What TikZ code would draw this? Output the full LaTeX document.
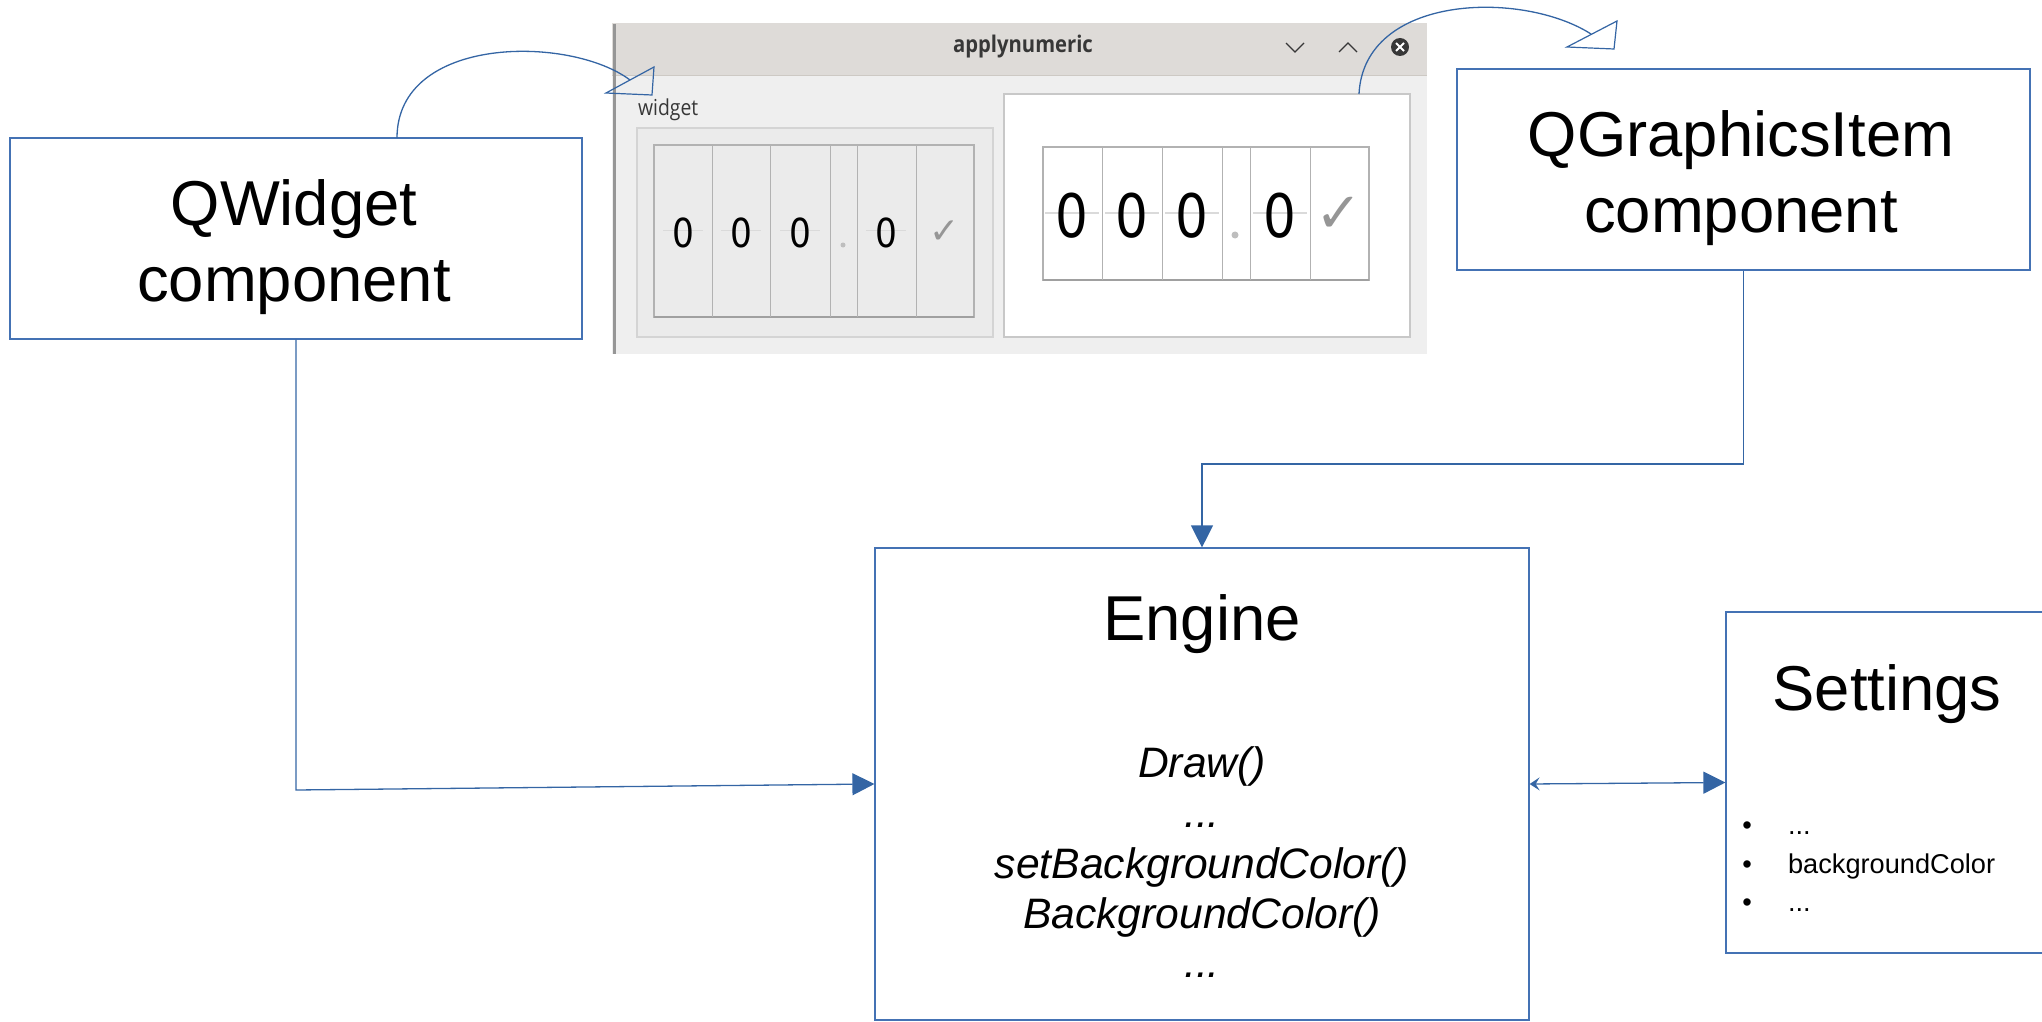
\documentclass[tikz,border=0pt]{standalone}
\usepackage{fontspec}
\setmainfont{Liberation Sans}
\newfontfamily\uifont{Open Sans}
\newfontfamily\symfont{DejaVu Sans}
\newfontfamily\digfont{Open Sans Semibold}
\usetikzlibrary{arrows.meta}
\definecolor{lnblue}{RGB}{52,101,164}
\definecolor{bxblue}{RGB}{68,114,180}
\definecolor{titlebg}{RGB}{222,219,216}
\definecolor{titleline}{RGB}{205,201,196}
\definecolor{winedge}{RGB}{150,150,150}
\definecolor{winbg}{RGB}{239,239,239}
\definecolor{grpbg}{RGB}{235,235,235}
\definecolor{grpline}{RGB}{212,212,212}
\definecolor{cellline}{RGB}{178,178,178}
\definecolor{cellbottom}{RGB}{160,160,160}
\definecolor{panelline}{RGB}{200,200,200}
\definecolor{dotgray}{RGB}{190,190,190}
\definecolor{titletxt}{RGB}{55,55,55}
\definecolor{checkgray}{RGB}{150,150,150}
\definecolor{splitgray}{RGB}{218,218,218}
\newcommand{\sqz}[1]{\scalebox{0.86}[1]{#1}}
\tikzset{
  box/.style={draw=bxblue, line width=0.6pt, inner sep=0pt},
  boxtext/.style={align=center, inner sep=0pt, font=\fontsize{31.7pt}{38pt}\selectfont},
  conn/.style={draw=lnblue, line width=0.65pt},
  bigtip/.style={-{Triangle[length=11pt,width=11pt,fill=lnblue,color=lnblue]}},
  opentri/.style={draw=lnblue, line width=0.6pt},
  meth/.style={anchor=base, font=\fontsize{21.3pt}{25pt}\selectfont\itshape},
  setitem/.style={anchor=base west, font=\fontsize{13.6pt}{19pt}\selectfont},
  bul/.style={anchor=base, font=\fontsize{13.6pt}{19pt}\selectfont},
  ldig/.style={font=\symfont\fontsize{20pt}{20pt}\selectfont, inner sep=0pt},
  rdig/.style={font=\symfont\fontsize{30pt}{30pt}\selectfont, inner sep=0pt},
  chev/.style={draw=titletxt, line width=0.6pt},
}
\begin{document}
\begin{tikzpicture}[x=0.5pt,y=-0.5pt]
\useasboundingbox (0,0) rectangle (2042,1022);
\clip (0,0) rectangle (2042,1022);

% ---------- screenshot ----------
\fill[winbg] (612,76) rectangle (1427,354);
\fill[titlebg] (612,23) rectangle (1427,76);
\draw[titleline, line width=0.5pt] (612,76) -- (1427,76);
\draw[winedge, line width=1.5pt] (614,24) -- (614,354);
\node[font=\uifont\bfseries\fontsize{11.5pt}{11.5pt}\selectfont, text=titletxt] (wtitle) at (1023,47) {\scalebox{0.88}[1]{applynumeric}};
\draw[chev] (1286,43) -- (1295,52) -- (1304,43);
\draw[chev] (1339,52) -- (1348,43) -- (1357,52);
\fill[titletxt] (1400,47) circle[radius=9];
\draw[white, line width=0.9pt] (1396,43) -- (1404,51) (1404,43) -- (1396,51);
\node[font=\uifont\fontsize{11pt}{11pt}\selectfont, text=titletxt, anchor=west] (wlabel) at (631,110) {\scalebox{0.88}[1]{widget}};

% left group box and numeric widget
\draw[fill=grpbg, draw=grpline, line width=0.6pt] (637,128) rectangle (993,337);
\draw[fill=grpbg, draw=cellline, line width=0.6pt] (654,145) rectangle (974,317);
\draw[cellbottom, line width=1pt] (654,317) -- (974,317);
\foreach \xx in {712,770,830,857,916} \draw[cellline, line width=0.5pt] (\xx,145) -- (\xx,317);
\foreach \xx in {683,741,800,886} {
  \draw[splitgray, line width=0.5pt] (\xx-20,231) -- (\xx+20,231);
  \node[ldig] at (\xx,233) {\sqz{0}};
}
\fill[dotgray] (843,245) circle[radius=2.5];
\node[font=\symfont\fontsize{18pt}{18pt}\selectfont, text=checkgray, inner sep=0pt] at (945,232) {✓};

% right panel and numeric item
\draw[fill=white, draw=panelline, line width=0.6pt] (1004,94) rectangle (1410,337);
\draw[fill=white, draw=cellline, line width=0.6pt] (1043,147) rectangle (1369,280);
\draw[cellbottom, line width=1pt] (1043,280) -- (1369,280);
\foreach \xx in {1102,1162,1222,1250,1310} \draw[cellline, line width=0.5pt] (\xx,147) -- (\xx,280);
\foreach \xx in {1072,1132,1192,1280} {
  \draw[splitgray, line width=0.6pt] (\xx-27,213) -- (\xx+27,213);
  \node[rdig] at (\xx,216) {\sqz{0}};
}
\fill[dotgray] (1235,235) circle[radius=3.5];
\node[font=\symfont\fontsize{28pt}{28pt}\selectfont, text=checkgray, inner sep=0pt] at (1339,215) {✓};

% ---------- boxes ----------
\node[box, minimum width=286pt, minimum height=100.5pt] (qw) at (296,238.5) {};
\node[boxtext] (qwtext) at (294,247) {QWidget\\component};
\node[box, minimum width=286.5pt, minimum height=100.5pt] (qg) at (1743.5,169.5) {};
\node[boxtext] (qgtext) at (1741,178) {QGraphicsItem\\component};
\node[box, minimum width=327pt, minimum height=236pt] (engine) at (1202,784) {};
\node[box, minimum width=167pt, minimum height=170.5pt] (settings) at (1893,782.5) {};

\node[boxtext] (etitle) at (1202,624) {Engine};
\node[meth] (e1) at (1202,777) {Draw()};
\node[meth] (e2) at (1202,827) {...};
\node[meth] (e3) at (1202,878) {setBackgroundColor()};
\node[meth] (e4) at (1202,928) {BackgroundColor()};
\node[meth] (e5) at (1202,977) {...};

\node[boxtext] (stitle) at (1887,694) {Settings};
\node[bul] (b1) at (1747,834) {•};
\node[bul] (b2) at (1747,873) {•};
\node[bul] (b3) at (1747,911) {•};
\node[setitem] (s1) at (1781,834) {...};
\node[setitem] (s2) at (1781,873) {backgroundColor};
\node[setitem] (s3) at (1781,911) {...};

% ---------- connectors ----------
\coordinate (qwbend) at (296,790);
\draw[conn, bigtip] (qw.south) -- (qwbend) -- (engine.west);
\coordinate (qgbend) at (1202,464);
\draw[conn, bigtip] (qg.south) |- (qgbend) -- (engine.north);
\draw[conn, {Stealth[length=5pt,width=6.5pt,inset=2pt,fill=lnblue]}-{Triangle[length=11pt,width=11pt,fill=lnblue]}] (engine.east) -- (settings.west);

% curved arrows with open heads
\coordinate (c1s) at (397,138);
\coordinate (c1e) at (630,80);
\draw[conn] (c1s) .. controls (397,35) and (570,35) .. (c1e);
\draw[opentri] (654,67) -- (606,93) -- (652,95) -- cycle;
\coordinate (c2s) at (1359,94);
\coordinate (c2e) at (1591,34);
\draw[conn] (c2s) .. controls (1364,-6) and (1522,-10) .. (c2e);
\draw[opentri] (1617,21) -- (1567,47) -- (1614,49) -- cycle;
\end{tikzpicture}
\end{document}
